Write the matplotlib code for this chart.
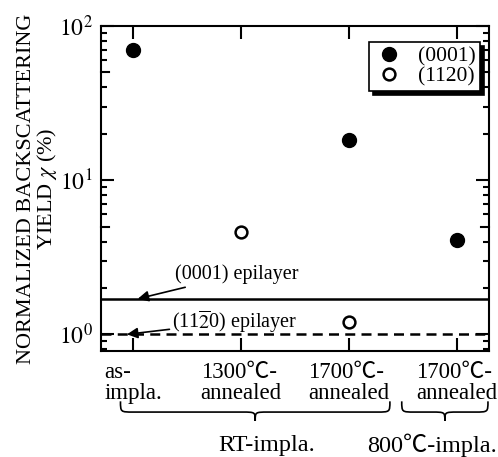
import numpy as np
import matplotlib
matplotlib.use('Agg')
import matplotlib.pyplot as plt
from matplotlib.path import Path
from matplotlib.patches import PathPatch
import matplotlib.transforms as mtransforms
from matplotlib.ticker import LogLocator, NullFormatter, FixedLocator

plt.rcParams['font.family'] = ['Liberation Serif', 'Noto Sans CJK JP']
plt.rcParams['mathtext.fontset'] = 'stix'

# data
categories = ['as-\nimpla.', '1300\u2103-\nannealed', '1700\u2103-\nannealed', '1700\u2103-\nannealed']
x_0001 = [0, 2, 3]
y_0001 = [70, 18.3, 4.1]
x_1120 = [1, 2]
y_1120 = [4.6, 1.2]
epi_0001 = 1.70
epi_1120 = 1.0
groups = ['RT-impla.', '800\u2103-impla.']

fig = plt.figure(figsize=(4.98, 4.57), dpi=100)
ax = fig.add_axes([0.203, 0.232, 0.779, 0.711])

ax.axhline(epi_0001, color='k', lw=1.8)
ax.axhline(epi_1120, color='k', lw=1.8, ls=(0, (4, 2.5)))

ax.plot(x_0001, y_0001, 'o', color='k', ms=10, label='(0001)', zorder=5)
ax.plot(x_1120, y_1120, 'o', mfc='white', mec='k', mew=1.8, ms=8.5,
        label='(1120)', zorder=5)

ax.set_yscale('log')
ax.set_ylim(0.78, 100)
ax.set_xlim(-0.3, 3.3)

ax.set_xticks(range(len(categories)))
ax.set_xticklabels(categories, fontsize=16.5, linespacing=1.0,
                   multialignment='left')
ax.yaxis.set_major_locator(FixedLocator([1, 10, 100]))
ax.set_yticklabels(['$10^0$', '$10^1$', '$10^2$'], fontsize=17)
ax.yaxis.set_minor_locator(LogLocator(base=10, subs=[2, 3, 4, 6, 7, 8, 9]))
ax.yaxis.set_minor_formatter(NullFormatter())

ax.tick_params(axis='both', which='major', direction='in', length=9.5,
               width=1.5, top=True, right=True, pad=6)
ax.tick_params(axis='x', which='major', pad=8)
ax.tick_params(axis='y', which='minor', direction='in', length=4,
               width=1.5, right=True)
# slightly longer ticks at 5 and 50
for side_x, d in [(0, 1), (1, -1)]:
    for v in [5, 50]:
        ax.plot([side_x, side_x + d * 0.02], [v, v], color='k', lw=1.5,
                transform=ax.get_yaxis_transform(), clip_on=False)
for s in ax.spines.values():
    s.set_linewidth(1.5)

ax.set_ylabel('NORMALIZED BACKSCATTERING\nYIELD $\\chi$ (%)', fontsize=16,
              linespacing=0.95, labelpad=0)

ax.annotate('(0001) epilayer', xy=(0.04, epi_0001), xytext=(0.39, 2.44),
            fontsize=14.5, va='center', ha='left',
            arrowprops=dict(arrowstyle='-|>', color='k', lw=1.2,
                            mutation_scale=16, shrinkA=0, shrinkB=0))
ax.annotate('(11$\\overline{2}$0) epilayer', xy=(-0.06, epi_1120),
            xytext=(0.36, 1.21), fontsize=14.5, va='center', ha='left',
            arrowprops=dict(arrowstyle='-|>', color='k', lw=1.2,
                            mutation_scale=16, shrinkA=0, shrinkB=0))

leg = ax.legend(loc='upper right', bbox_to_anchor=(0.977, 0.951),
                borderaxespad=0, fancybox=False, frameon=True,
                shadow={'color': 'k', 'alpha': 1, 'ox': 3, 'oy': -3},
                fontsize=15.5, handletextpad=0.6, handlelength=1.5,
                labelspacing=0.0, borderpad=0.2)
leg.get_frame().set_edgecolor('k')
leg.get_frame().set_linewidth(1.2)


def brace(ax, x0, x1, ytop, ybot):
    tr = mtransforms.blended_transform_factory(ax.transData, ax.transAxes)
    xm = (x0 + x1) / 2
    h = ytop - ybot
    ymid = ytop - h * 0.55
    q = 0.12
    verts = [(x0, ytop),
             (x0, ymid), (x0, ymid), (x0 + q, ymid),
             (xm - q, ymid),
             (xm, ymid), (xm, ymid), (xm, ybot),
             (xm, ymid), (xm, ymid), (xm + q, ymid),
             (x1 - q, ymid),
             (x1, ymid), (x1, ymid), (x1, ytop)]
    codes = [Path.MOVETO,
             Path.CURVE4, Path.CURVE4, Path.CURVE4,
             Path.LINETO,
             Path.CURVE4, Path.CURVE4, Path.CURVE4,
             Path.CURVE4, Path.CURVE4, Path.CURVE4,
             Path.LINETO,
             Path.CURVE4, Path.CURVE4, Path.CURVE4]
    ax.add_patch(PathPatch(Path(verts, codes), fc='none', ec='k', lw=1.2,
                           transform=tr, clip_on=False))


brace(ax, -0.12, 2.38, -0.155, -0.215)
brace(ax, 2.49, 3.29, -0.155, -0.215)
ax.text(1.24, -0.29, groups[0], fontsize=17.5, ha='center', va='center',
        transform=ax.get_xaxis_transform())
ax.text(2.77, -0.29, groups[1], fontsize=17.5, ha='center', va='center',
        transform=ax.get_xaxis_transform())

fig.savefig('out.png', dpi=100)
